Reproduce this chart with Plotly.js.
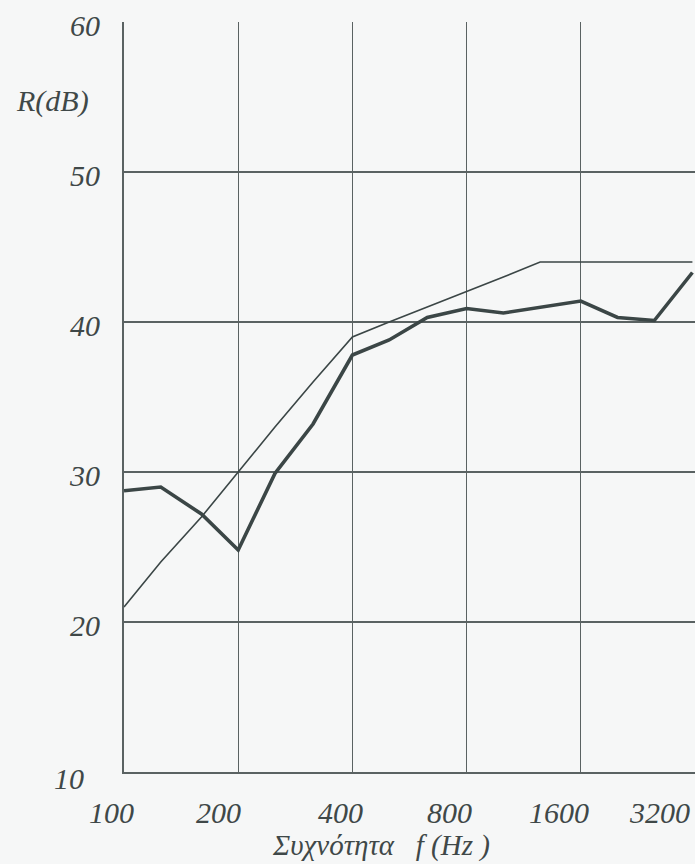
<!DOCTYPE html>
<html>
<head>
<meta charset="utf-8">
<script src="https://cdn.plot.ly/plotly-3.0.1.min.js"></script>
<style>
html,body{margin:0;padding:0;background:#f6f7f7;}
#chart{width:695px;height:864px;}
</style>
</head>
<body>
<div id="chart"></div>
<script>
// Third-octave band centre frequencies (Hz)
const freqs = [100,125,160,200,250,315,400,500,630,800,1000,1250,1600,2000,2500,3150];
// Measured sound reduction index R (dB)
const measured = [28.75,29.0,27.2,24.8,29.9,33.2,37.8,38.8,40.3,40.9,40.6,41.0,41.4,40.3,40.1,43.3];
// Shifted reference curve (dB)
const reference = [21,24,27,30,33,36,39,40,41,42,43,44,44,44,44,44];
// Tick labels
const xTicks = [100,200,400,800,1600,3200];
const yTicks = [10,20,30,40,50,60];
const yLabel = 'R(dB)';
const xLabel = 'Συχνότητα&nbsp;&nbsp; f (Hz )';

const ink = '#3b4646';
const font = {family:'Liberation Serif, Times New Roman, serif', size:30, color:'#3f4848'};

// layout-only offsets for the hand-placed labels
const xLabelShift = [-13,-20,-12,-17,-22,-36];

const annotations = [];
xTicks.forEach((v,i)=>{
  annotations.push({x:Math.log10(v), y:0, xref:'x', yref:'paper', text:'<i>'+v+'</i>',
    showarrow:false, xanchor:'center', yanchor:'middle', yshift:-40, xshift:xLabelShift[i], font:font});
});
yTicks.forEach((v)=>{
  const isBottom = v===10;
  annotations.push({x:0, y:v, xref:'paper', yref:'y', text:'<i>'+v+'</i>', showarrow:false,
    xanchor:'right', yanchor:'middle', xshift:isBottom?-38:-22, yshift:isBottom?-6:-3, font:font});
});
annotations.push({x:0, y:55, xref:'paper', yref:'y', text:'<i>'+yLabel+'</i>', showarrow:false,
  xanchor:'right', yanchor:'middle', xshift:-33, yshift:-4, font:font});
annotations.push({x:0.45, y:0, xref:'paper', yref:'paper', text:'<i>'+xLabel+'</i>', showarrow:false,
  xanchor:'center', yanchor:'middle', yshift:-73, font:Object.assign({}, font, {size:29})});

const traces = [
  {x:freqs, y:reference, type:'scatter', mode:'lines', line:{color:ink, width:1.6}, hoverinfo:'skip'},
  {x:freqs, y:measured, type:'scatter', mode:'lines', line:{color:ink, width:3.6}, hoverinfo:'skip'}
];

const layout = {
  width:695, height:864,
  margin:{l:124, r:0, t:22, b:92},
  paper_bgcolor:'#f6f7f7', plot_bgcolor:'#f6f7f7',
  showlegend:false,
  xaxis:{type:'log', range:[Math.log10(100), Math.log10(3200)], tickvals:xTicks, showticklabels:false,
    showgrid:true, gridcolor:'#5a6262', gridwidth:1.4, zeroline:false,
    showline:true, linecolor:'#5a6262', linewidth:1.6, ticks:''},
  yaxis:{range:[10,60], tickvals:yTicks, showticklabels:false,
    showgrid:true, gridcolor:'#5a6262', gridwidth:1.4, zeroline:false,
    showline:true, linecolor:'#5a6262', linewidth:1.6, ticks:''},
  annotations:annotations
};

Plotly.newPlot('chart', traces, layout, {staticPlot:true, displayModeBar:false});
</script>
</body>
</html>
